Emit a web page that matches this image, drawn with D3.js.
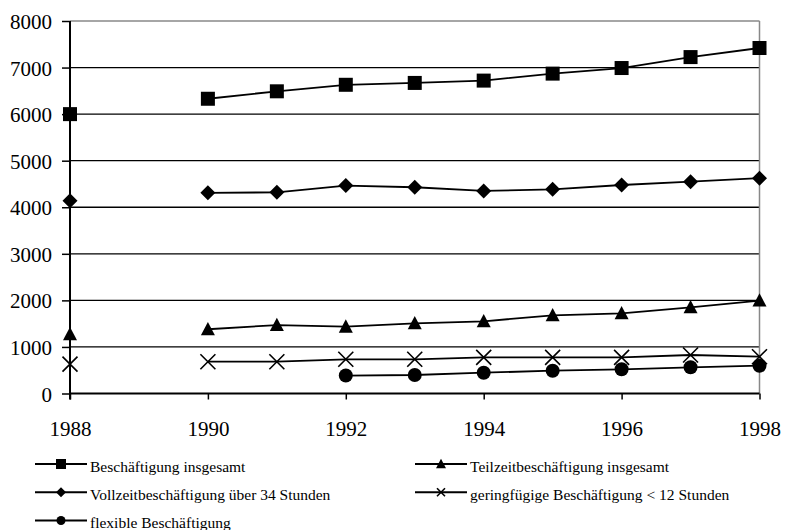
<!DOCTYPE html>
<html><head><meta charset="utf-8">
<script src="https://cdn.jsdelivr.net/npm/d3@7"></script>
<style>html,body{margin:0;padding:0;background:#fff}svg{display:block}</style>
</head><body>
<svg id="c" width="785" height="530"></svg>
<script>
const years = [1988, 1989, 1990, 1991, 1992, 1993, 1994, 1995, 1996, 1997, 1998];
const xTicks = [1988, 1990, 1992, 1994, 1996, 1998];
const yTicks = [0, 1000, 2000, 3000, 4000, 5000, 6000, 7000, 8000];
const seriesNames = ["Beschäftigung insgesamt", "Vollzeitbeschäftigung über 34 Stunden", "Teilzeitbeschäftigung insgesamt", "geringfügige Beschäftigung < 12 Stunden", "flexible Beschäftigung"];
const markerTypes = ["square", "diamond", "triangle", "x", "circle"];
const totalValues   = [6000, null, 6330, 6490, 6630, 6670, 6720, 6870, 6990, 7225, 7420];
const vollzeitValues = [4140, null, 4310, 4320, 4465, 4430, 4350, 4385, 4478, 4550, 4625];
const teilzeitValues = [1270, null, 1380, 1470, 1435, 1508, 1551, 1680, 1722, 1851, 1995];
const geringValues  = [630, null, 683, 683, 735, 735, 777, 777, 777, 827, 790];
const flexValues    = [null, null, null, null, 385, 397, 447, 490, 520, 563, 597];
const seriesValues = [totalValues, vollzeitValues, teilzeitValues, geringValues, flexValues];

const svg = d3.select("#c");
const font = "'Liberation Serif','Times New Roman',serif";
const x = d3.scaleLinear().domain([1988, 1998]).range([70, 759.5]);
const y = d3.scaleLinear().domain([0, 8000]).range([393.5, 21]);

// gridlines
svg.append("g").selectAll("line").data(yTicks.filter(t => t > 0)).join("line")
  .attr("x1", x(1988)).attr("x2", x(1998))
  .attr("y1", d => y(d)).attr("y2", d => y(d))
  .attr("stroke", d => d === 8000 ? "#888" : "#000")
  .attr("stroke-width", d => d === 8000 ? 1.5 : 1.3);
// right border
svg.append("line").attr("x1", x(1998)).attr("x2", x(1998)).attr("y1", y(8000)).attr("y2", y(0))
  .attr("stroke", "#888").attr("stroke-width", 1.5);

// y axis
const yAxis = svg.append("g").attr("transform", `translate(${x(1988)},0)`)
  .call(d3.axisLeft(y).tickValues(yTicks).tickSize(8).tickPadding(10).tickFormat(d3.format("d")));
yAxis.select(".domain").attr("stroke", "#000").attr("stroke-width", 2).attr("d", `M0,${y(8000)}V${y(0)+6}`);
yAxis.selectAll(".tick line").attr("stroke", "#000").attr("stroke-width", 1.5);
yAxis.selectAll("text").attr("font-family", font).attr("font-size", 21).attr("fill", "#000").attr("dy", "0.36em");

// x axis
const xAxis = svg.append("g").attr("transform", `translate(0,${y(0)})`)
  .call(d3.axisBottom(x).tickValues(xTicks).tickSize(6).tickPadding(22).tickFormat(d3.format("d")));
xAxis.select(".domain").attr("stroke", "#000").attr("stroke-width", 2).attr("d", `M${x(1988)},0H${x(1998)}`);
xAxis.selectAll(".tick line").attr("stroke", "#000").attr("stroke-width", 1.5);
xAxis.selectAll("text").attr("font-family", font).attr("font-size", 21).attr("fill", "#000");

function marker(g, type, s) {
  const h = s / 2;
  if (type === "square") g.append("rect").attr("x", -h).attr("y", -h).attr("width", s).attr("height", s).attr("fill", "#000");
  else if (type === "diamond") g.append("path").attr("d", `M0,${-h}L${h},0L0,${h}L${-h},0Z`).attr("fill", "#000");
  else if (type === "triangle") g.append("path").attr("d", `M0,${-h*1.05}L${h},${h*0.85}L${-h},${h*0.85}Z`).attr("fill", "#000");
  else if (type === "circle") g.append("circle").attr("r", h).attr("fill", "#000");
  else if (type === "x") g.append("path").attr("d", `M${-h},${-h}L${h},${h}M${-h},${h}L${h},${-h}`).attr("stroke", "#000").attr("stroke-width", 1.6).attr("fill", "none");
}

const line = d3.line().defined(d => d[1] !== null).x(d => x(d[0])).y(d => y(d[1]));
const sizes = { square: 14, diamond: 15, triangle: 14, circle: 14, x: 15 };
seriesValues.forEach((vals, i) => {
  const pts = years.map((yr, j) => [yr, vals[j]]);
  svg.append("path").datum(pts).attr("d", line).attr("fill", "none").attr("stroke", "#000").attr("stroke-width", 1.8);
  const mg = svg.append("g");
  pts.filter(p => p[1] !== null).forEach(p => {
    const g = mg.append("g").attr("transform", `translate(${x(p[0])},${y(p[1])})`);
    marker(g, markerTypes[i], sizes[markerTypes[i]]);
  });
});

// legend
const legendPos = [
  { i: 0, lx: 35, ly: 464 },
  { i: 2, lx: 415, ly: 464 },
  { i: 1, lx: 35, ly: 492.3 },
  { i: 3, lx: 415, ly: 492.3 },
  { i: 4, lx: 35, ly: 520.5 }
];
const lsizes = { square: 10, diamond: 10, triangle: 10, circle: 9, x: 8 };
legendPos.forEach(p => {
  const g = svg.append("g");
  g.append("line").attr("x1", p.lx).attr("x2", p.lx + 52).attr("y1", p.ly).attr("y2", p.ly).attr("stroke", "#000").attr("stroke-width", 2);
  const mg = g.append("g").attr("transform", `translate(${p.lx + 26},${p.ly})`);
  marker(mg, markerTypes[p.i], lsizes[markerTypes[p.i]]);
  g.append("text").attr("x", p.lx + 55).attr("y", p.ly + 7.7)
    .attr("font-family", font).attr("font-size", 15.5).attr("fill", "#000").text(seriesNames[p.i]);
});
</script>
</body></html>
